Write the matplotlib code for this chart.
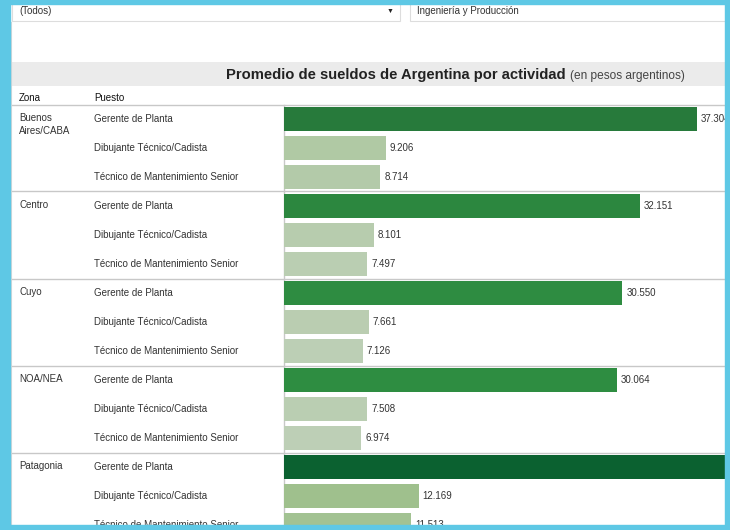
#recreate the tableau-style salary bar chart (screenshot with blue frame)

import numpy as np
import matplotlib.pyplot as plt
from matplotlib.patches import Rectangle
from matplotlib.colors import LinearSegmentedColormap, Normalize
from matplotlib.transforms import blended_transform_factory

#data
zonas = ["Buenos\nAires/CABA", "Centro", "Cuyo", "NOA/NEA", "Patagonia"]
puestos = ["Gerente de Planta", "Dibujante Técnico/Cadista", "Técnico de Mantenimiento Senior"]
gerente = [37304, 32151, 30550, 30064, 44200]
dibujante = [9206, 8101, 7661, 7508, 12169]
tecnico = [8714, 7497, 7126, 6974, 11513]

#flatten into one row per bar
values = []
for g, d, t in zip(gerente, dibujante, tecnico):
    values += [g, d, t]
values = np.array(values)
rows = np.arange(len(values))

#sequential green, light for low salaries, dark for high
cmap = LinearSegmentedColormap.from_list(
    "greens", [(0.0, "#bdcfb6"), (0.14, "#9ec08c"), (0.62, "#2e8d41"),
               (0.80, "#297c3c"), (1.0, "#0b6130")])
norm = Normalize(vmin=6974, vmax=44200)

W, H = 730, 530
fig = plt.figure(figsize=(W / 100, H / 100), dpi=100)
plt.rcParams["font.family"] = ["Liberation Sans", "DejaVu Sans"]

#background axes in pixel coordinates
bg = fig.add_axes([0, 0, 1, 1])
bg.set_xlim(0, W)
bg.set_ylim(H, 0)
bg.axis("off")

#filter boxes on top
bg.add_patch(Rectangle((12, 2), 388, 19, facecolor="white", edgecolor="#dddddd", lw=0.8))
bg.add_patch(Rectangle((410, 2), 320, 19, facecolor="white", edgecolor="#dddddd", lw=0.8))
bg.text(19, 11, "(Todos)", fontsize=7, va="center", color="#333333")
bg.text(390, 11, "▼", fontsize=5, va="center", ha="center", color="#222222")
bg.text(417, 11, "Ingeniería y Producción", fontsize=7, va="center", color="#333333")

#title band
bg.add_patch(Rectangle((12, 62), 718, 24, facecolor="#ebebeb", edgecolor="none"))
bg.text(566, 75, "Promedio de sueldos de Argentina por actividad", fontsize=10.6,
        fontweight="bold", ha="right", va="center", color="#222222")
bg.text(570, 75.5, "(en pesos argentinos)", fontsize=8.6, ha="left", va="center", color="#444444")

#header row
bg.text(19, 98, "Zona", fontsize=7, va="center", color="#111111")
bg.text(94, 98, "Puesto", fontsize=7, va="center", color="#111111")
bg.plot([12, 730], [105, 105], color="#c8c8c8", lw=1)

#bar axes: x from 284 to 725 px, y from 105 to 525 px
row_px = 29
ax_left, ax_right, ax_top, ax_bot = 284, 725, 105, 525
ax = fig.add_axes([ax_left / W, 1 - ax_bot / H, (ax_right - ax_left) / W, (ax_bot - ax_top) / H])
ax.patch.set_alpha(0)
px_per_unit = 0.01107
xmax = (ax_right - ax_left) / px_per_unit
ax.set_xlim(0, xmax)
top_row = -(119 - ax_top) / row_px
ax.set_ylim(top_row + (ax_bot - ax_top) / row_px, top_row)
ax.axis("off")

ax.barh(rows, values, height=0.8, color=cmap(norm(values)), edgecolor="none")
for r, v in zip(rows, values):
    if v >= xmax:
        continue  #label falls outside the visible view
    ax.text(v + 4 / px_per_unit, r, f"{v:,}".replace(",", "."), fontsize=7,
            va="center", ha="left", color="#333333", clip_on=False)

#row labels in pixel x, data y
trans = blended_transform_factory(bg.transData, ax.transData)
for i, z in enumerate(zonas):
    bg.text(19, 3 * i - 0.2, z, transform=trans, fontsize=7, va="top",
            linespacing=1.35, color="#333333")
    for j, p in enumerate(puestos):
        bg.text(94, 3 * i + j, p, transform=trans, fontsize=7, va="center", color="#333333")
    if i > 0:
        bg.plot([12, 730], [3 * i - 0.5, 3 * i - 0.5], transform=trans, color="#c8c8c8", lw=1)

#vertical axis line
bg.plot([284, 284], [105, 530], color="#c8c8c8", lw=1)
bg.plot([11, 11], [22, 530], color="#d8d8d8", lw=0.8)

#blue frame drawn on top
fr = fig.add_axes([0, 0, 1, 1], zorder=10)
fr.set_xlim(0, W)
fr.set_ylim(H, 0)
fr.axis("off")
fr.patch.set_alpha(0)
blue = "#5ec8e5"
fr.add_patch(Rectangle((0, 0), W, 4, color=blue))
fr.add_patch(Rectangle((0, 525), W, 5, color=blue))
fr.add_patch(Rectangle((0, 0), 10, H, color=blue))
fr.add_patch(Rectangle((725, 0), 5, H, color=blue))

fig.savefig("out.png", dpi=100)
